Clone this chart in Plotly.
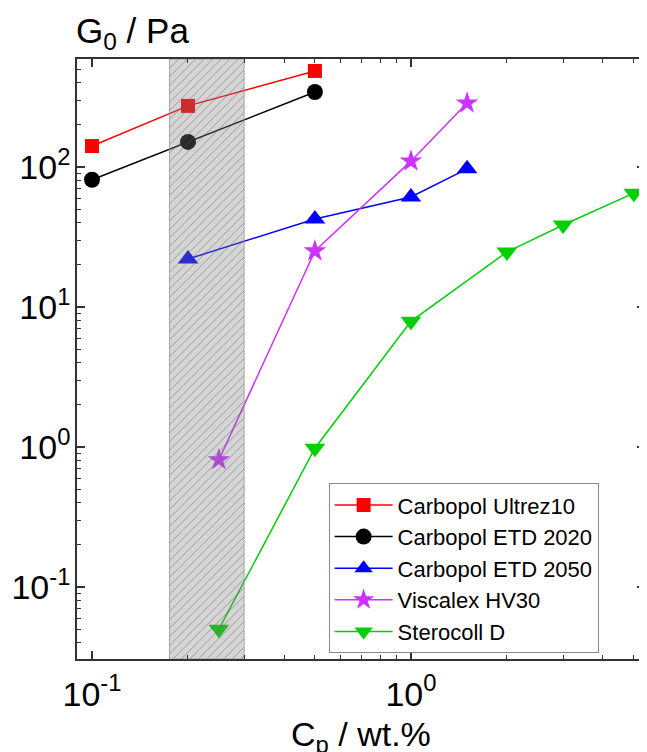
import plotly.graph_objects as go

# ---- data ----
x_ultrez = [0.1, 0.2, 0.5]
y_ultrez = [141, 273, 485]

x_etd2020 = [0.1, 0.2, 0.5]
y_etd2020 = [81, 151, 343]

x_etd2050 = [0.2, 0.5, 1.0, 1.5]
y_etd2050 = [22, 42.5, 61, 97]

x_visc = [0.25, 0.5, 1.0, 1.5]
y_visc = [0.81, 25.1, 110, 286]

x_stero = [0.25, 0.5, 1.0, 2.0, 3.0, 5.0]
y_stero = [0.05, 0.98, 7.9, 24.7, 38.5, 65]

shade_x = [0.175, 0.3]

x_tickvals = [0.1, 1]
x_ticktext = ["10<sup>-1</sup>", "10<sup>0</sup>"]
y_tickvals = [0.1, 1, 10, 100]
y_ticktext = ["10<sup>-1</sup>", "10<sup>0</sup>", "10<sup>1</sup>", "10<sup>2</sup>"]

x_range_log = [-1.047, 0.734]
y_range_log = [-1.514, 2.771]

FONT = "Liberation Sans, Arial, sans-serif"
AX = "#333333"

series = [
    ("Carbopol Ultrez10", x_ultrez, y_ultrez, "#FF0000", "square", 14),
    ("Carbopol ETD 2020", x_etd2020, y_etd2020, "#000000", "circle", 16),
    ("Carbopol ETD 2050", x_etd2050, y_etd2050, "#0000FF", "triangle-up", 18),
    ("Viscalex HV30", x_visc, y_visc, "#CC33FF", "star", 17),
    ("Sterocoll D", x_stero, y_stero, "#00D000", "triangle-down", 18),
]

fig = go.Figure()
for name, xs, ys, col, sym, sz in series:
    fig.add_trace(go.Scatter(
        x=xs, y=ys, name=name, mode="lines+markers",
        line=dict(color=col, width=1.5),
        marker=dict(symbol=sym, size=sz, color=col, line=dict(width=0)),
    ))

# hatched region (drawn on top, translucent)
ylo = 10 ** y_range_log[0]
yhi = 10 ** y_range_log[1]
fig.add_trace(go.Scatter(
    x=[shade_x[0], shade_x[1], shade_x[1], shade_x[0], shade_x[0]],
    y=[ylo, ylo, yhi, yhi, ylo],
    mode="lines", fill="toself",
    line=dict(color="rgba(150,150,150,0.8)", width=1),
    fillcolor="rgba(128,128,128,0.33)",
    fillpattern=dict(shape="/", size=6, solidity=0.15,
                     fgcolor="#555555", bgcolor="rgba(128,128,128,0.33)"),
    showlegend=False, hoverinfo="skip",
))

axis_common = dict(
    type="log", showgrid=False, zeroline=False,
    showline=True, linecolor=AX, linewidth=1.5, mirror="allticks",
    ticks="inside", ticklen=8, tickwidth=1.5, tickcolor=AX,
    tickfont=dict(family=FONT, size=34, color="#000"),
    tickmode="array",
    minor=dict(ticks="inside", ticklen=4, tickwidth=1.2, tickcolor=AX, dtick="D1", showgrid=False),
)

fig.update_xaxes(**axis_common, range=x_range_log, tickvals=x_tickvals, ticktext=x_ticktext,
                 ticklabelstandoff=4)
fig.update_yaxes(**axis_common, range=y_range_log, tickvals=y_tickvals, ticktext=y_ticktext,
                 ticklabelstandoff=-2)

fig.add_annotation(text="G<sub>0</sub> / Pa", xref="paper", yref="paper",
                   x=-0.005, y=1.0, xanchor="left", yanchor="bottom", yshift=2,
                   showarrow=False, font=dict(family=FONT, size=35, color="#000"))
fig.add_annotation(text="C<sub>p</sub> / wt.%", xref="paper", yref="paper",
                   x=0.5, y=0, xanchor="center", yanchor="top", yshift=-54,
                   showarrow=False, font=dict(family=FONT, size=34, color="#000"))

# page body has an 8px default margin, so the figure is 8px smaller and
# all margins are shifted to keep the plot area where the reference has it
fig.update_layout(
    width=639, height=744,
    margin=dict(l=69, r=0, t=51, b=93),
    paper_bgcolor="white", plot_bgcolor="white",
    showlegend=True,
    legend=dict(x=0.443, y=0.293, xanchor="left", yanchor="top",
                bgcolor="white", bordercolor="#888888", borderwidth=1,
                font=dict(family=FONT, size=22, color="#000"),
                itemwidth=58, tracegroupgap=0),
)

fig.write_html("out.html")
